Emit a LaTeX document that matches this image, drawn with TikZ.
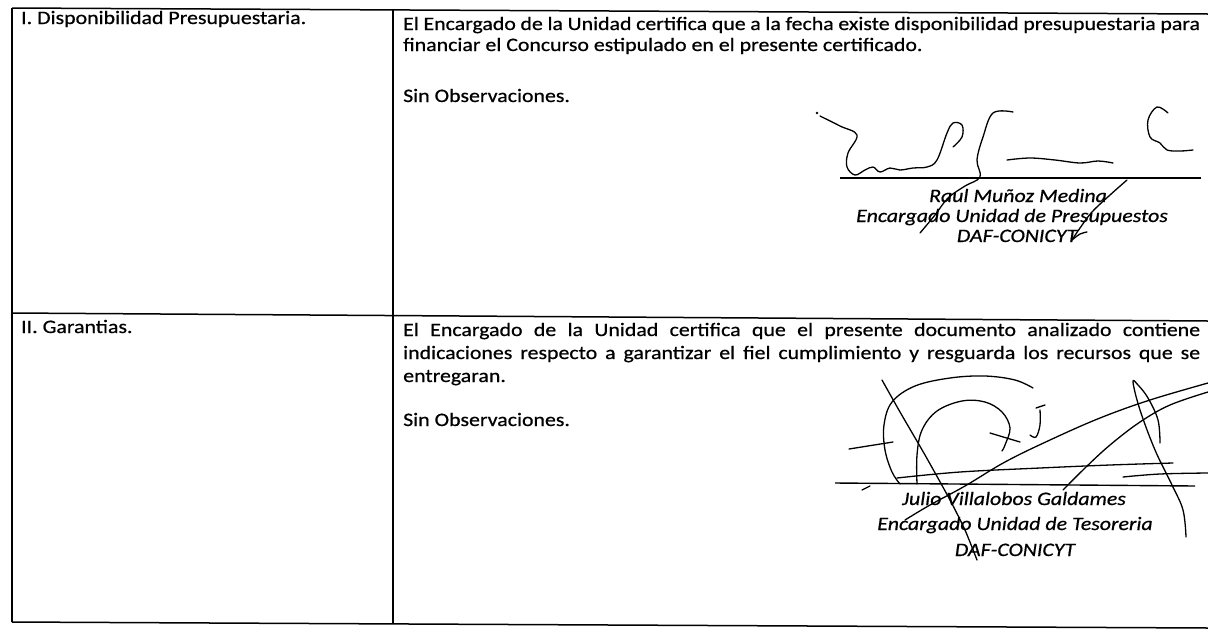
\documentclass[tikz,border=0pt]{standalone}
\usepackage{fontspec}
\setmainfont{Carlito}[FakeStretch=1.15, FakeBold=0.6]
\usepackage{tikz}

\tikzset{
  rule/.style={line width=1.5pt},
  txt/.style={anchor=base west, inner sep=0pt, font=\fontsize{19}{23}\selectfont},
  signer/.style={anchor=base, inner sep=0pt, font=\fontsize{19}{23}\selectfont\itshape},
  ink/.style={line width=1.3pt, line cap=round, line join=round}
}

\begin{document}
\begin{tikzpicture}[x=1pt, y=-1pt]
\useasboundingbox[fill=white] (0, 0) rectangle (1208, 630);

% table rules
\coordinate (tl) at (12, 8);
\coordinate (tr) at (1208, 14);
\coordinate (ml) at (12, 313);
\coordinate (mr) at (1208, 321);
\coordinate (bl) at (12, 622);
\coordinate (br) at (1208, 628);
\coordinate (dt) at (393, 10);
\coordinate (db) at (393, 624);
\draw[rule] (tl) -- (tr);
\draw[rule] (ml) -- (mr);
\draw[rule] (bl) -- (br);
\draw[rule] (tl) -- (bl);
\draw[rule] (dt) -- (db);

% first row
\node[txt] (headA) at (21, 24) {I. Disponibilidad Presupuestaria.};
\node[txt] (lineA1) at (403, 30) {\makebox[797pt][s]{El Encargado de la Unidad certifica que a la fecha existe disponibilidad presupuestaria para}};
\node[txt] (lineA2) at (403, 51) {financiar el Concurso estipulado en el presente certificado.};
\node[txt] (obsA) at (403, 102) {Sin Observaciones.};

\coordinate (sigAl) at (840, 178);
\coordinate (sigAr) at (1201, 178);
\draw[line width=1.4pt] (sigAl) -- (sigAr);
\node[signer] (nameA) at (1018, 202) {Raul Muñoz Medina};
\node[signer] (roleA) at (1012, 222) {Encargado Unidad de Presupuestos};
\node[signer] (unitA) at (1017, 242) {DAF-CONICYT};

% signature Raul
\fill (817, 113) circle (1.4);
\draw[ink] plot[smooth, tension=0.6] coordinates {(820, 116) (840, 126) (857, 135) (848, 153) (847, 167) (855, 175) (865, 170) (873, 167) (880, 172) (890, 168) (900, 170) (913, 168) (927, 167) (937, 160) (947, 133) (953, 123) (962, 125) (962, 137) (953, 147)};
\draw[ink] plot[smooth, tension=0.6] coordinates {(1013, 112) (993, 113) (983, 137) (977, 160) (980, 177) (965, 186) (948, 198) (935, 215) (920, 233)};
\draw[ink] plot[smooth, tension=0.6] coordinates {(1007, 160) (1030, 158) (1055, 160) (1080, 163) (1098, 161) (1113, 163)};
\draw[ink] plot[smooth, tension=0.6] coordinates {(1168, 113) (1157, 107) (1148, 120) (1150, 137) (1160, 143) (1167, 150) (1180, 151) (1193, 150)};
\draw[ink] plot[smooth, tension=0.6] coordinates {(1127, 180) (1110, 195) (1092, 212) (1080, 228) (1072, 240)};
\draw[ink] plot[smooth, tension=0.6] coordinates {(1072, 240) (1080, 234) (1087, 232)};

% second row
\node[txt] (headB) at (21, 333) {II. Garantias.};
\node[txt] (lineB1) at (403, 336) {\makebox[797pt][s]{El Encargado de la Unidad certifica que el presente documento analizado contiene}};
\node[txt] (lineB2) at (403, 359) {\makebox[797pt][s]{indicaciones respecto a garantizar el fiel cumplimiento y resguarda los recursos que se}};
\node[txt] (lineB3) at (403, 382) {entregaran.};
\node[txt] (obsB) at (403, 426) {Sin Observaciones.};

\coordinate (sigBl) at (835, 483);
\coordinate (sigBr) at (1195, 486);
\draw[line width=1.4pt] (sigBl) -- (sigBr);
\node[signer] (nameB) at (1014, 505) {Julio Villalobos Galdames};
\node[signer] (roleB) at (1015, 530) {Encargado Unidad de Tesoreria};
\node[signer] (unitB) at (1015, 556) {DAF-CONICYT};

% signature Julio
\draw[ink] plot[smooth, tension=0.6] coordinates {(1033, 388) (1015, 380) (985, 376) (950, 378) (915, 386) (892, 402) (884, 425) (885, 450) (892, 472) (900, 484)};
\draw[ink] plot[smooth, tension=0.6] coordinates {(917, 484) (917, 455) (922, 430) (937, 411) (962, 401) (985, 402) (1002, 412) (1010, 428) (1005, 445) (1002, 451)};
\draw[ink] (990, 433) -- (1020, 442);
\draw[ink] (849, 449) -- (893, 442);
\draw[ink] plot[smooth, tension=0.6] coordinates {(1030, 435) (1036, 437) (1040, 425) (1040, 410)};
\draw[ink] (1036, 408) -- (1045, 405);
\draw[ink] plot[smooth, tension=0.4] coordinates {(882, 380) (900, 412) (925, 455) (950, 500) (965, 530) (977, 560)};
\draw[ink] plot[smooth, tension=0.6] coordinates {(897, 478) (960, 472) (1040, 468) (1110, 465) (1173, 463)};
\draw[ink] plot[smooth, tension=0.6] coordinates {(1123, 477) (1160, 474) (1208, 473)};
\draw[ink] plot[smooth, tension=0.6] coordinates {(905, 520) (930, 505) (965, 486) (1005, 462) (1050, 440) (1100, 418) (1150, 400) (1208, 383)};
\draw[ink] plot[smooth, tension=0.6] coordinates {(1063, 490) (1085, 468) (1110, 445) (1140, 422) (1170, 405) (1208, 392)};
\draw[ink] plot[smooth, tension=0.6] coordinates {(1160, 443) (1158, 420) (1148, 398) (1138, 385) (1133, 382) (1140, 410) (1155, 450) (1172, 485) (1183, 510) (1186, 537)};
\draw[ink] (862, 490) -- (870, 486);
\end{tikzpicture}
\end{document}
